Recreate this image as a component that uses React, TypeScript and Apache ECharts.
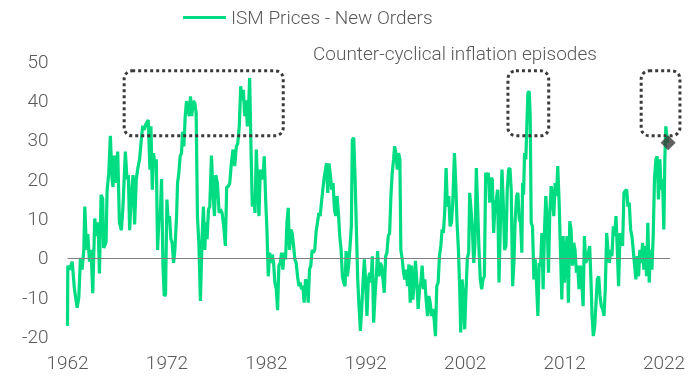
import React, { useEffect, useRef } from 'react';
import * as echarts from 'echarts';

const baseYear = 1962;
const axisEndYear = 2022.6;
const xTickYears = [1962, 1972, 1982, 1992, 2002, 2012, 2022];
const yMin = -20;
const yMax = 50;
const yStep = 10;
const seriesName = 'ISM Prices - New Orders';
const annotationText = 'Counter-cyclical inflation episodes';

// [year, value]
const ismPricesNewOrders: [number, number][] = [
  [1962.0, -17.3], [1962.03, -2], [1962.23, -3], [1962.47, -1], [1962.7, -8], [1962.97, -12.7], [1963.14, -10], [1963.3, 0],
  [1963.47, -3], [1963.64, 2], [1963.74, 13], [1963.91, 2], [1964.04, 6], [1964.21, -1], [1964.37, 2], [1964.54, -9],
  [1964.74, 10], [1964.91, 5.5], [1965.08, 9], [1965.21, -4], [1965.38, 16], [1965.54, 15], [1965.64, 2.5], [1965.88, 4],
  [1965.98, 17], [1966.15, 21.5], [1966.31, 31], [1966.48, 20], [1966.58, 18], [1966.71, 26], [1966.85, 19], [1967.05, 27],
  [1967.22, 9], [1967.42, 7], [1967.58, 13], [1967.82, 27], [1967.98, 20], [1968.12, 21], [1968.25, 7], [1968.42, 16],
  [1968.59, 21], [1968.75, 8.5], [1968.92, 20], [1969.09, 23], [1969.25, 25], [1969.39, 29], [1969.56, 33.5], [1969.72, 32.5],
  [1969.89, 34],
  [1970.12, 35], [1970.29, 22.4], [1970.39, 33.4], [1970.53, 17.3], [1970.66, 26.6], [1970.79, 23], [1970.93, 25], [1971.06, 2],
  [1971.23, 11.4], [1971.33, 11], [1971.46, 20], [1971.6, -2], [1971.73, -9.7], [1971.86, -9.3], [1972.0, 14.8], [1972.13, 8.9],
  [1972.26, 10.6], [1972.4, 4.7], [1972.53, 3.8], [1972.67, -1.3], [1972.8, 2], [1972.97, 10.6], [1973.07, 19], [1973.2, 21.6],
  [1973.33, 25.8], [1973.47, 26.6], [1973.57, 32], [1973.7, 28.3], [1973.84, 36], [1973.97, 39.8], [1974.1, 38], [1974.24, 36],
  [1974.37, 41], [1974.5, 36], [1974.64, 39.8], [1974.81, 39.3], [1974.94, 36.8], [1975.07, 10.6], [1975.21, 3.8], [1975.37, -11],
  [1975.54, 5.5], [1975.67, 13], [1975.81, 2], [1975.91, 9], [1976.04, 4.7], [1976.18, 12.3], [1976.31, 13], [1976.48, 26],
  [1976.64, 16.5], [1976.78, 10.6], [1976.91, 21], [1977.08, 19], [1977.25, 11.4], [1977.38, 12.3], [1977.55, 11.4], [1977.71, 8],
  [1977.88, 3], [1978.01, 18], [1978.15, 18], [1978.32, 19], [1978.48, 24], [1978.65, 27.5], [1978.82, 23.3], [1978.98, 28.3],
  [1979.12, 29], [1979.28, 33.4], [1979.42, 43.6], [1979.55, 40], [1979.69, 42.7], [1979.82, 36], [1979.95, 40], [1980.09, 33.4],
  [1980.22, 38.5], [1980.32, 45.7], [1980.46, 27.5], [1980.59, 13], [1980.72, 15.7], [1980.86, 11.4], [1980.99, 27.5], [1981.12, 19],
  [1981.26, 10.6], [1981.39, 22.4], [1981.53, 20], [1981.66, 20.7], [1981.79, 25.8], [1981.93, 14.8], [1982.06, 7.2], [1982.19, -4.7],
  [1982.33, 1.3], [1982.46, -1.3], [1982.59, 0.8], [1982.73, -1.3], [1982.86, -6.3], [1983.0, -8], [1983.13, -13.3], [1983.26, -2],
  [1983.4, -1.3], [1983.53, 1.3], [1983.66, -3], [1983.8, 1.3], [1983.93, -0.4], [1984.07, 8.9], [1984.2, 12.7], [1984.33, 2],
  [1984.47, 7.2], [1984.6, 6.3], [1984.74, 3], [1984.87, -0.4], [1985.0, -1.3], [1985.14, -4.7], [1985.27, -7.2], [1985.4, -6.3],
  [1985.54, -8], [1985.67, -7.2], [1985.8, -11.4], [1985.94, -5.5], [1986.07, -6.3], [1986.21, -11.4], [1986.34, -3], [1986.47, -2],
  [1986.61, 2], [1986.74, 1.3], [1986.87, 2], [1987.01, 6.8], [1987.14, 8.9], [1987.28, 11.4], [1987.41, 10.6], [1987.54, 14],
  [1987.68, 17.3], [1987.81, 20.3],
  [1988.05, 24], [1988.18, 16.5], [1988.31, 24], [1988.45, 20.7], [1988.58, 17.3], [1988.71, 19], [1988.85, 12.3], [1988.98, 10.6],
  [1989.11, 15.7], [1989.25, 11.4], [1989.38, 5.5], [1989.52, 2], [1989.65, -4.7], [1989.78, -6.3], [1989.92, -7.2], [1990.02, 1.7],
  [1990.15, -4.7], [1990.28, -2], [1990.42, 3], [1990.55, 8], [1990.65, 30], [1990.79, 30.5], [1990.92, 20.7], [1991.05, 8],
  [1991.19, -5.5], [1991.32, -12.3], [1991.46, -18.6], [1991.59, -13], [1991.72, -6.3], [1991.86, -0.4], [1991.99, -6.3], [1992.12, -14.8],
  [1992.26, -5.5], [1992.39, -3.8], [1992.52, -6.3], [1992.66, 0.4], [1992.79, -16.5], [1992.93, -9.7], [1993.06, -4.7], [1993.19, 1.7],
  [1993.33, -4.7], [1993.46, -1.3], [1993.59, -2], [1993.73, -5.5], [1993.86, -8.9], [1994.0, 0.4], [1994.13, 1.3], [1994.26, 5.5],
  [1994.4, 6.3], [1994.53, 15.7], [1994.66, 21.6], [1994.8, 25], [1994.9, 28.3], [1995.03, 26.6], [1995.17, 22.4], [1995.3, 26.6],
  [1995.43, 25], [1995.53, 2], [1995.67, -0.4], [1995.8, -3.8], [1995.93, -5.5], [1996.07, -3], [1996.2, -7.2], [1996.34, -1.7],
  [1996.47, -11.4], [1996.6, -2],
  [1996.74, -10.6], [1996.87, -6.3], [1997.0, -0.8], [1997.14, -6.3], [1997.27, -13], [1997.41, -8], [1997.54, -6.3], [1997.67, -2],
  [1997.81, -8], [1997.94, -5.5], [1998.07, -10.6], [1998.21, -14.8], [1998.34, -9.7], [1998.48, -11.4], [1998.61, -14.8], [1998.74, -13],
  [1998.88, -15.7], [1999.01, -19.9], [1999.14, -7.2], [1999.28, -6.3], [1999.41, 0.4], [1999.55, 3], [1999.68, 7.2], [1999.81, 6.3],
  [1999.95, 12.3], [2000.08, 22.8], [2000.21, 13], [2000.35, 15.7], [2000.48, 8], [2000.62, 8.9], [2000.75, 14], [2000.92, 26.6],
  [2001.05, 19], [2001.18, 8.9], [2001.32, 2], [2001.45, -8], [2001.55, -19], [2001.69, -5.5], [2001.82, -9.7], [2001.95, -18.2],
  [2002.09, -8], [2002.22, 0], [2002.35, 1.3], [2002.45, 16.5], [2002.59, 12.3], [2002.72, 7.2], [2002.86, -1.3], [2002.99, 3.8],
  [2003.12, 22.8], [2003.26, 12.3], [2003.39, 2], [2003.52, -5.5], [2003.66, -8], [2003.79, -5.5], [2003.93, -4.7], [2004.06, 21.6],
  [2004.19, 20.7], [2004.33, 21.6], [2004.46, 14], [2004.6, 20.3], [2004.73, 19.9], [2004.86, 6.3], [2005.0, 13], [2005.13, 14.8],
  [2005.26, 17.3], [2005.4, -6.3],
  [2005.56, 10.6], [2005.7, 22.4], [2005.83, 14], [2005.96, 2], [2006.1, 3], [2006.23, 17.3], [2006.37, 22.4], [2006.5, 22.8],
  [2006.63, 17.3], [2006.77, -7.2], [2006.9, -1.3], [2007.03, 9.7], [2007.17, 15.7], [2007.3, 16.5], [2007.44, 9.7], [2007.57, 8.9],
  [2007.7, 1.3], [2007.77, 19], [2007.87, 16], [2007.97, 26.6], [2008.1, 25], [2008.21, 34.3], [2008.31, 41.9], [2008.44, 42.3],
  [2008.54, 36], [2008.64, 8.9], [2008.77, 8], [2008.91, -5.5], [2009.04, -0.4], [2009.17, -6.3], [2009.31, -14.8], [2009.44, -1.3],
  [2009.58, -2], [2009.71, 6.3], [2009.84, -8], [2009.98, 7.2], [2010.11, 15.7], [2010.24, 8.9], [2010.38, -3.8], [2010.51, 11.4],
  [2010.65, 18.2], [2010.78, 15.7], [2010.91, 10.6], [2011.05, 19], [2011.18, 15.7], [2011.31, 23.3], [2011.45, 14], [2011.58, 2],
  [2011.72, -10.6], [2011.85, 5.5], [2011.98, -6.3], [2012.12, 2], [2012.25, 5.5], [2012.38, -11.4], [2012.52, 9.3], [2012.65, 7.2],
  [2012.79, -2], [2012.92, 3.8], [2013.05, 2], [2013.19, -3.8], [2013.32, -2], [2013.45, -8], [2013.59, -2], [2013.72, -5.5],
  [2013.86, -12.3], [2013.99, 5.5], [2014.12, -1.3], [2014.26, -0.4],
  [2014.52, 3], [2014.66, -6.3], [2014.76, -14.8], [2014.89, -19.9], [2015.03, -17.3], [2015.16, -11.4], [2015.29, -5.5], [2015.43, -4.7],
  [2015.56, -9.7], [2015.69, -12.3], [2015.83, -13], [2015.96, -14.8], [2016.09, -8], [2016.23, 6.3], [2016.36, 2], [2016.5, -1.3],
  [2016.63, 2], [2016.76, 0.4], [2016.9, 8], [2017.03, 5.5], [2017.17, 10.6], [2017.3, 2], [2017.43, -7.2], [2017.57, 6.3],
  [2017.7, 4.7], [2017.83, 3], [2017.97, 16.5], [2018.1, 17], [2018.24, 17.3], [2018.37, 13], [2018.5, 14], [2018.64, 7.2],
  [2018.77, 5.5], [2018.9, 2], [2019.04, -2], [2019.17, -5.5], [2019.31, 0.4], [2019.44, -4.7], [2019.57, 2], [2019.71, -1.3],
  [2019.84, 3.8], [2019.97, -3], [2020.11, 3], [2020.24, -4.7], [2020.37, 8.9], [2020.51, -6.3], [2020.64, 2], [2020.78, -3],
  [2020.91, 5.5], [2021.04, 20], [2021.18, 25], [2021.31, 25.8], [2021.44, 14.8], [2021.58, 25], [2021.71, 17.3], [2021.85, 20],
  [2021.98, 7.2], [2022.08, 25], [2022.18, 33.4], [2022.28, 30.9], [2022.41, 29.2],
];

// Dotted boxes marking the episodes, in data units (years, index points)
const episodeBoxes = [
  { from: 1967.7, to: 1983.7, low: 31, high: 47.5 },
  { from: 2006.3, to: 2010.4, low: 31, high: 47.5 },
  { from: 2019.7, to: 2023.6, low: 31, high: 47.5 },
];

const FONT = 'Roboto, "Liberation Sans", Arial, sans-serif';
const TEXT_COLOR = '#595959';
const GREEN = '#00dc82';
const FS = 19;

export default function App() {
  const ref = useRef<HTMLDivElement>(null);

  useEffect(() => {
    if (!ref.current) return;
    const chart = echarts.init(ref.current, null, { renderer: 'svg' });
    const lineData = ismPricesNewOrders.map(([yr, v]) => [yr - baseYear, v]);
    const last = lineData[lineData.length - 1];

    chart.setOption({
      animation: false,
      textStyle: { fontFamily: FONT, fontWeight: 300 },
      legend: {
        data: [seriesName],
        left: 183,
        top: 8,
        padding: 0,
        icon: 'rect',
        itemWidth: 43,
        itemHeight: 3,
        textStyle: { color: TEXT_COLOR, fontSize: FS, fontFamily: FONT, fontWeight: 300 },
      },
      grid: { left: 67.5, right: 30, top: 61, bottom: 40.5 },
      xAxis: {
        type: 'value',
        min: 0,
        max: axisEndYear - baseYear,
        interval: 10,
        axisLine: { show: false },
        axisTick: { show: false },
        splitLine: { show: false },
        axisLabel: {
          color: TEXT_COLOR,
          fontSize: FS,
          fontFamily: FONT,
          fontWeight: 300,
          margin: 16,
          formatter: (v: number) => {
            const yr = Math.round(v + baseYear);
            return xTickYears.includes(yr) && Math.abs(v + baseYear - yr) < 1e-6 ? String(yr) : '';
          },
        },
      },
      yAxis: {
        type: 'value',
        min: yMin,
        max: yMax,
        interval: yStep,
        axisLine: { show: false },
        axisTick: { show: false },
        splitLine: { show: false },
        axisLabel: { color: TEXT_COLOR, fontSize: FS, fontFamily: FONT, fontWeight: 300, margin: 19 },
      },
      series: [
        {
          name: seriesName,
          type: 'line',
          data: lineData,
          showSymbol: false,
          symbol: 'none',
          lineStyle: { color: GREEN, width: 3.2 },
          itemStyle: { color: GREEN },
          z: 3,
          markLine: {
            silent: true,
            symbol: ['none', 'none'],
            label: { show: false },
            lineStyle: { color: '#808080', width: 1, type: 'solid' },
            data: [{ yAxis: 0 }],
          },
        },
        {
          name: 'latest',
          type: 'scatter',
          data: [last],
          symbol: 'diamond',
          symbolSize: 15,
          itemStyle: { color: '#3a3a3a' },
          z: 5,
        },
      ],
    });

    const rects = episodeBoxes.map((b) => {
      const p1 = chart.convertToPixel({ gridIndex: 0 }, [b.from - baseYear, b.high]) as number[];
      const p2 = chart.convertToPixel({ gridIndex: 0 }, [b.to - baseYear, b.low]) as number[];
      return {
        type: 'rect',
        shape: { x: p1[0], y: p1[1], width: p2[0] - p1[0], height: p2[1] - p1[1], r: 8 },
        style: { fill: 'none', stroke: '#3a3a3a', lineWidth: 3, lineDash: [3, 3] },
        z: 10,
        silent: true,
      };
    });

    chart.setOption({
      graphic: [
        ...rects,
        {
          type: 'text',
          left: 313,
          top: 44,
          silent: true,
          style: {
            text: annotationText,
            fill: TEXT_COLOR,
            fontSize: FS,
            fontFamily: FONT,
            fontWeight: 300,
          },
        },
      ],
    });

    return () => chart.dispose();
  }, []);

  return (
    <div
      ref={ref}
      style={{ position: 'fixed', left: 0, top: 0, width: 700, height: 377 }}
    />
  );
}
